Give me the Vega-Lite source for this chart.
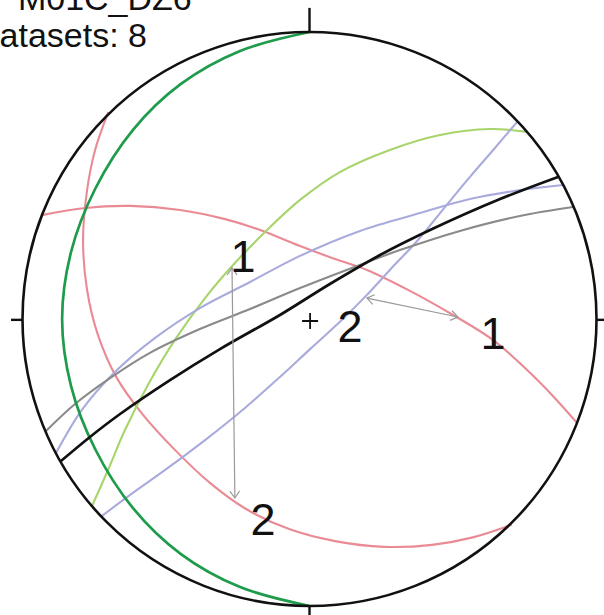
{
  "$schema": "https://vega.github.io/schema/vega-lite/v6.json",
  "width": 604,
  "height": 615,
  "autosize": {"type": "none"},
  "padding": 0,
  "background": "white",
  "config": {"view": {"stroke": null}},
  "datasets": {
    "planes": [
      {"set": "p1", "i": 0, "x": 0, "y": 1.0},
      {"set": "p1", "i": 1, "x": -0.242, "y": 0.934},
      {"set": "p1", "i": 2, "x": -0.448, "y": 0.819},
      {"set": "p1", "i": 3, "x": -0.615, "y": 0.659},
      {"set": "p1", "i": 4, "x": -0.747, "y": 0.453},
      {"set": "p1", "i": 5, "x": -0.831, "y": 0.233},
      {"set": "p1", "i": 6, "x": -0.862, "y": 0},
      {"set": "p1", "i": 7, "x": -0.831, "y": -0.233},
      {"set": "p1", "i": 8, "x": -0.747, "y": -0.453},
      {"set": "p1", "i": 9, "x": -0.615, "y": -0.659},
      {"set": "p1", "i": 10, "x": -0.448, "y": -0.819},
      {"set": "p1", "i": 11, "x": -0.242, "y": -0.934},
      {"set": "p1", "i": 12, "x": 0, "y": -1.0},

      {"set": "p2", "i": 0, "x": -0.702, "y": 0.718},
      {"set": "p2", "i": 1, "x": -0.747, "y": 0.589},
      {"set": "p2", "i": 2, "x": -0.775, "y": 0.449},
      {"set": "p2", "i": 3, "x": -0.789, "y": 0.275},
      {"set": "p2", "i": 4, "x": -0.775, "y": 0.101},
      {"set": "p2", "i": 5, "x": -0.737, "y": -0.056},
      {"set": "p2", "i": 6, "x": -0.671, "y": -0.206},
      {"set": "p2", "i": 7, "x": -0.58, "y": -0.334},
      {"set": "p2", "i": 8, "x": -0.469, "y": -0.456},
      {"set": "p2", "i": 9, "x": -0.347, "y": -0.571},
      {"set": "p2", "i": 10, "x": -0.221, "y": -0.662},
      {"set": "p2", "i": 11, "x": -0.071, "y": -0.732},
      {"set": "p2", "i": 12, "x": 0.089, "y": -0.774},
      {"set": "p2", "i": 13, "x": 0.26, "y": -0.794},
      {"set": "p2", "i": 14, "x": 0.427, "y": -0.787},
      {"set": "p2", "i": 15, "x": 0.573, "y": -0.76},
      {"set": "p2", "i": 16, "x": 0.702, "y": -0.718},

      {"set": "p3", "i": 0, "x": -0.932, "y": 0.362},
      {"set": "p3", "i": 1, "x": -0.782, "y": 0.387},
      {"set": "p3", "i": 2, "x": -0.625, "y": 0.394},
      {"set": "p3", "i": 3, "x": -0.451, "y": 0.38},
      {"set": "p3", "i": 4, "x": -0.294, "y": 0.348},
      {"set": "p3", "i": 5, "x": -0.172, "y": 0.31},
      {"set": "p3", "i": 6, "x": -0.033, "y": 0.254},
      {"set": "p3", "i": 7, "x": 0.089, "y": 0.209},
      {"set": "p3", "i": 8, "x": 0.2, "y": 0.171},
      {"set": "p3", "i": 9, "x": 0.35, "y": 0.098},
      {"set": "p3", "i": 10, "x": 0.5, "y": 0.014},
      {"set": "p3", "i": 11, "x": 0.639, "y": -0.073},
      {"set": "p3", "i": 12, "x": 0.751, "y": -0.171},
      {"set": "p3", "i": 13, "x": 0.848, "y": -0.268},
      {"set": "p3", "i": 14, "x": 0.932, "y": -0.362},

      {"set": "p4", "i": 0, "x": 0.758, "y": 0.652},
      {"set": "p4", "i": 1, "x": 0.629, "y": 0.662},
      {"set": "p4", "i": 2, "x": 0.455, "y": 0.641},
      {"set": "p4", "i": 3, "x": 0.28, "y": 0.589},
      {"set": "p4", "i": 4, "x": 0.106, "y": 0.512},
      {"set": "p4", "i": 5, "x": -0.033, "y": 0.415},
      {"set": "p4", "i": 6, "x": -0.148, "y": 0.31},
      {"set": "p4", "i": 7, "x": -0.26, "y": 0.195},
      {"set": "p4", "i": 8, "x": -0.364, "y": 0.073},
      {"set": "p4", "i": 9, "x": -0.469, "y": -0.073},
      {"set": "p4", "i": 10, "x": -0.563, "y": -0.23},
      {"set": "p4", "i": 11, "x": -0.643, "y": -0.387},
      {"set": "p4", "i": 12, "x": -0.702, "y": -0.526},
      {"set": "p4", "i": 13, "x": -0.758, "y": -0.652},

      {"set": "p5", "i": 0, "x": 0.723, "y": 0.686},
      {"set": "p5", "i": 1, "x": 0.646, "y": 0.596},
      {"set": "p5", "i": 2, "x": 0.559, "y": 0.495},
      {"set": "p5", "i": 3, "x": 0.472, "y": 0.39},
      {"set": "p5", "i": 4, "x": 0.375, "y": 0.272},
      {"set": "p5", "i": 5, "x": 0.28, "y": 0.171},
      {"set": "p5", "i": 6, "x": 0.2, "y": 0.084},
      {"set": "p5", "i": 7, "x": 0.106, "y": -0.01},
      {"set": "p5", "i": 8, "x": 0.002, "y": -0.105},
      {"set": "p5", "i": 9, "x": -0.103, "y": -0.202},
      {"set": "p5", "i": 10, "x": -0.225, "y": -0.31},
      {"set": "p5", "i": 11, "x": -0.364, "y": -0.422},
      {"set": "p5", "i": 12, "x": -0.503, "y": -0.526},
      {"set": "p5", "i": 13, "x": -0.625, "y": -0.613},
      {"set": "p5", "i": 14, "x": -0.723, "y": -0.686},

      {"set": "p6", "i": 0, "x": 0.883, "y": 0.467},
      {"set": "p6", "i": 1, "x": 0.733, "y": 0.449},
      {"set": "p6", "i": 2, "x": 0.559, "y": 0.418},
      {"set": "p6", "i": 3, "x": 0.385, "y": 0.369},
      {"set": "p6", "i": 4, "x": 0.176, "y": 0.307},
      {"set": "p6", "i": 5, "x": -0.033, "y": 0.22},
      {"set": "p6", "i": 6, "x": -0.207, "y": 0.129},
      {"set": "p6", "i": 7, "x": -0.382, "y": 0.038},
      {"set": "p6", "i": 8, "x": -0.538, "y": -0.066},
      {"set": "p6", "i": 9, "x": -0.678, "y": -0.185},
      {"set": "p6", "i": 10, "x": -0.793, "y": -0.317},
      {"set": "p6", "i": 11, "x": -0.883, "y": -0.467},

      {"set": "p7", "i": 0, "x": 0.918, "y": 0.39},
      {"set": "p7", "i": 1, "x": 0.733, "y": 0.359},
      {"set": "p7", "i": 2, "x": 0.524, "y": 0.307},
      {"set": "p7", "i": 3, "x": 0.315, "y": 0.24},
      {"set": "p7", "i": 4, "x": 0.166, "y": 0.185},
      {"set": "p7", "i": 5, "x": -0.033, "y": 0.108},
      {"set": "p7", "i": 6, "x": -0.207, "y": 0.035},
      {"set": "p7", "i": 7, "x": -0.382, "y": -0.035},
      {"set": "p7", "i": 8, "x": -0.556, "y": -0.118},
      {"set": "p7", "i": 9, "x": -0.695, "y": -0.206},
      {"set": "p7", "i": 10, "x": -0.817, "y": -0.296},
      {"set": "p7", "i": 11, "x": -0.918, "y": -0.39},

      {"set": "p8", "i": 0, "x": 0.866, "y": 0.495},
      {"set": "p8", "i": 1, "x": 0.664, "y": 0.418},
      {"set": "p8", "i": 2, "x": 0.42, "y": 0.31},
      {"set": "p8", "i": 3, "x": 0.246, "y": 0.223},
      {"set": "p8", "i": 4, "x": 0.071, "y": 0.122},
      {"set": "p8", "i": 5, "x": -0.103, "y": 0.014},
      {"set": "p8", "i": 6, "x": -0.312, "y": -0.105},
      {"set": "p8", "i": 7, "x": -0.486, "y": -0.213},
      {"set": "p8", "i": 8, "x": -0.66, "y": -0.331},
      {"set": "p8", "i": 9, "x": -0.765, "y": -0.411},
      {"set": "p8", "i": 10, "x": -0.866, "y": -0.495}
    ],
    "ticks": [
      {"x": 0, "y": 1.0, "x2": 0, "y2": 1.084},
      {"x": -1.0, "y": -0.003, "x2": -1.04, "y2": -0.003},
      {"x": 1.0, "y": -0.003, "x2": 1.05, "y2": -0.003},
      {"x": 0, "y": -1.0, "x2": 0, "y2": -1.05}
    ],
    "arrows": [
      {"id": "a1", "x": -0.27, "y": 0.178, "x2": -0.26, "y2": -0.624},
      {"id": "a2", "x": 0.2, "y": 0.073, "x2": 0.517, "y2": 0.007}
    ],
    "labels": [
      {"x": -0.232, "y": 0.164, "text": "1"},
      {"x": 0.141, "y": -0.08, "text": "2"},
      {"x": 0.639, "y": -0.105, "text": "1"},
      {"x": -0.162, "y": -0.753, "text": "2"}
    ],
    "header": [
      {"x": -1.016, "y": 1.077, "text": "M01C_DZ6"},
      {"x": -1.1655, "y": 0.948, "text": "Datasets: 8"}
    ]
  },
  "encoding": {
    "x": {"field": "x", "type": "quantitative", "axis": null,
          "scale": {"domain": [-1.0784, 1.0261], "nice": false, "zero": false}},
    "y": {"field": "y", "type": "quantitative", "axis": null,
          "scale": {"domain": [-1.0314, 1.1115], "nice": false, "zero": false}},
    "color": {"field": "set", "type": "nominal", "legend": null,
              "scale": {"domain": ["p1", "p2", "p3", "p4", "p5", "p6", "p7", "p8"],
                        "range": ["#1e9b4b", "#ea8a94", "#ea8a94", "#a8d46c", "#a9abdc", "#a9abdc", "#8a8a8a", "#111111"]}}
  },
  "layer": [
    {
      "data": {"name": "planes"},
      "transform": [{"filter": "datum.set !== 'p1' && datum.set !== 'p8'"}],
      "mark": {"type": "line", "interpolate": "catmull-rom", "strokeCap": "round", "strokeWidth": 2.1},
      "encoding": {"order": {"field": "i", "type": "quantitative"}}
    },
    {
      "data": {"name": "planes"},
      "transform": [{"filter": "datum.set === 'p1' || datum.set === 'p8'"}],
      "mark": {"type": "line", "interpolate": "catmull-rom", "strokeCap": "round", "strokeWidth": 2.7},
      "encoding": {"order": {"field": "i", "type": "quantitative"}}
    },
    {
      "data": {"values": [{"x": 0, "y": 0}]},
      "mark": {"type": "point", "shape": "circle", "size": 329476, "filled": false, "stroke": "#111111", "strokeWidth": 2.6, "opacity": 1},
      "encoding": {"color": {"value": "#111111"}}
    },
    {
      "data": {"name": "ticks"},
      "mark": {"type": "rule", "strokeWidth": 2.4},
      "encoding": {"color": {"value": "#111111"}, "x2": {"field": "x2"}, "y2": {"field": "y2"}}
    },
    {
      "data": {"name": "arrows"},
      "mark": {"type": "rule", "strokeWidth": 1.2},
      "encoding": {"color": {"value": "#999999"}, "x2": {"field": "x2"}, "y2": {"field": "y2"}}
    },
    {
      "data": {"name": "arrows"},
      "transform": [{"filter": "datum.id === 'a1'"}],
      "mark": {"type": "point", "shape": "M-0.7,1L0,0L0.7,1", "size": 196, "filled": false, "strokeWidth": 1.2, "opacity": 1, "angle": 359},
      "encoding": {"color": {"value": "#999999"}}
    },
    {
      "data": {"name": "arrows"},
      "transform": [{"filter": "datum.id === 'a1'"}],
      "mark": {"type": "point", "shape": "M-0.7,1L0,0L0.7,1", "size": 196, "filled": false, "strokeWidth": 1.2, "opacity": 1, "angle": 179},
      "encoding": {"color": {"value": "#999999"}, "x": {"field": "x2", "type": "quantitative"}, "y": {"field": "y2", "type": "quantitative"}}
    },
    {
      "data": {"name": "arrows"},
      "transform": [{"filter": "datum.id === 'a2'"}],
      "mark": {"type": "point", "shape": "M-0.7,1L0,0L0.7,1", "size": 196, "filled": false, "strokeWidth": 1.2, "opacity": 1, "angle": 282},
      "encoding": {"color": {"value": "#999999"}}
    },
    {
      "data": {"name": "arrows"},
      "transform": [{"filter": "datum.id === 'a2'"}],
      "mark": {"type": "point", "shape": "M-0.7,1L0,0L0.7,1", "size": 196, "filled": false, "strokeWidth": 1.2, "opacity": 1, "angle": 102},
      "encoding": {"color": {"value": "#999999"}, "x": {"field": "x2", "type": "quantitative"}, "y": {"field": "y2", "type": "quantitative"}}
    },
    {
      "data": {"values": [{"x": 0.002, "y": -0.007}]},
      "mark": {"type": "point", "shape": "M-1,0L1,0M0,-1L0,1", "size": 256, "filled": false, "strokeWidth": 1.8, "opacity": 1},
      "encoding": {"color": {"value": "#111111"}}
    },
    {
      "data": {"name": "labels"},
      "mark": {"type": "text", "font": "Liberation Sans", "fontSize": 45, "align": "center", "baseline": "alphabetic"},
      "encoding": {"color": {"value": "#111111"}, "text": {"field": "text"}}
    },
    {
      "data": {"name": "header"},
      "mark": {"type": "text", "font": "Liberation Sans", "fontSize": 34, "align": "left", "baseline": "alphabetic"},
      "encoding": {"color": {"value": "#111111"}, "text": {"field": "text"}}
    }
  ]
}
